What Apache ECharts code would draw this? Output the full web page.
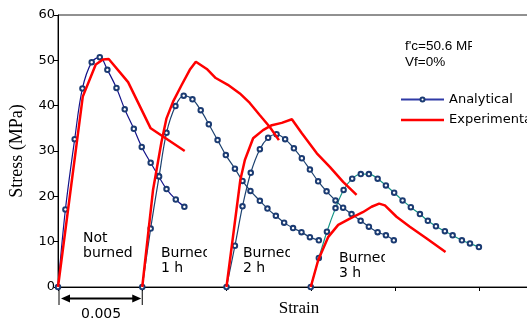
<!DOCTYPE html>
<html>
<head>
<meta charset="utf-8">
<style>
  html, body { margin: 0; padding: 0; background: #fff; }
  #chart { width: 527px; height: 322px; }
</style>
<script src="https://cdn.jsdelivr.net/npm/echarts/dist/echarts.min.js"></script>
</head>
<body>
<div id="chart"></div>
<script>
// Stress-strain curves of concrete (f'c = 50.6 MPa, Vf = 0%) after burning.
// Each burning time is shifted along the strain axis by 0.005.

// Not burned
const nbAnaStrain = [0, 0.00044, 0.00099, 0.00145, 0.00200, 0.00248, 0.00293, 0.00347, 0.00396, 0.00450, 0.00497, 0.00550, 0.00596, 0.00644, 0.00699, 0.00750];
const nbAnaStress = [0, 17.1, 32.6, 43.8, 49.6, 50.7, 47.9, 43.9, 39.2, 34.9, 30.9, 27.4, 24.5, 21.6, 19.3, 17.7];
const nbExpStrain = [0, 0.00147, 0.00224, 0.00267, 0.00301, 0.00416, 0.00550, 0.00752];
const nbExpStress = [0, 42.0, 49.1, 50.2, 50.3, 45.2, 35.0, 30.0];

// Burned 1 h
const b1AnaStrain = [0.005, 0.00550, 0.00600, 0.00644, 0.00697, 0.00746, 0.00798, 0.00847, 0.00895, 0.00947, 0.00996, 0.01050, 0.01095, 0.01142, 0.01198, 0.01243, 0.01293, 0.01342, 0.01395, 0.01445, 0.01495, 0.01548];
const b1AnaStress = [0, 12.9, 24.4, 34.0, 39.9, 42.2, 41.4, 39.0, 35.9, 32.4, 29.1, 26.1, 23.4, 21.2, 19.0, 17.3, 15.7, 14.2, 13.0, 12.1, 11.0, 10.3];
const b1ExpStrain = [0.005, 0.00564, 0.00614, 0.00644, 0.00683, 0.00733, 0.00782, 0.00818, 0.00883, 0.00936, 0.01008, 0.01079, 0.01138, 0.01198, 0.01257, 0.01311];
const b1ExpStress = [0, 21.4, 32.0, 37.2, 40.9, 44.5, 47.9, 49.7, 48.1, 46.1, 44.6, 42.7, 40.6, 37.9, 35.3, 32.4];

// Burned 2 h
const b2AnaStrain = [0.010, 0.01050, 0.01095, 0.01144, 0.01198, 0.01247, 0.01297, 0.01348, 0.01400, 0.01447, 0.01495, 0.01544, 0.01594, 0.01647, 0.01692, 0.01742, 0.01796, 0.01845, 0.01897, 0.01946, 0.01993];
const b2AnaStress = [0, 9.1, 17.8, 25.2, 30.4, 32.9, 33.7, 32.6, 30.6, 28.4, 25.9, 23.3, 21.1, 19.1, 17.5, 16.1, 14.6, 13.3, 12.1, 11.4, 10.3];
const b2ExpStrain = [0.010, 0.01082, 0.01109, 0.01158, 0.01217, 0.01269, 0.01328, 0.01388, 0.01447, 0.01536, 0.01613, 0.01692, 0.01772];
const b2ExpStress = [0, 23.6, 28.0, 32.8, 34.6, 35.7, 36.2, 37.0, 33.9, 29.5, 26.5, 23.2, 20.3];

// Burned 3 h
const b3AnaStrain = [0.015, 0.01548, 0.01596, 0.01647, 0.01695, 0.01746, 0.01797, 0.01845, 0.01897, 0.01946, 0.01995, 0.02045, 0.02094, 0.02148, 0.02195, 0.02243, 0.02296, 0.02342, 0.02397, 0.02445, 0.02498];
const b3AnaStress = [0, 6.4, 12.2, 17.4, 21.4, 23.9, 24.9, 24.9, 23.9, 22.4, 20.8, 19.1, 17.6, 16.1, 14.6, 13.4, 12.3, 11.4, 10.3, 9.6, 8.8];
const b3ExpStrain = [0.015, 0.01544, 0.01603, 0.01663, 0.01732, 0.01809, 0.01861, 0.01906, 0.01940, 0.02009, 0.02088, 0.02188, 0.02300];
const b3ExpStress = [0, 5.9, 11.0, 13.7, 15.1, 16.5, 17.7, 18.4, 18.0, 15.5, 13.3, 10.7, 7.7];

const yTicks = [0, 10, 20, 30, 40, 50, 60];
const strainStep = 0.005;
const curveLabels = [
  { lines: ['Not', 'burned'], x: 83, y: 238 },
  { lines: ['Burned', '1 h'], x: 161, y: 253, clipAt: 207 },
  { lines: ['Burned', '2 h'], x: 243, y: 253, clipAt: 290 },
  { lines: ['Burned', '3 h'], x: 339, y: 258, clipAt: 385 }
];

const SANS = 'DejaVu Sans';
const ARIAL = 'Liberation Sans';
const SERIF = 'Liberation Serif';

function zip(xs, ys) { return xs.map((x, i) => [x, ys[i]]); }

const markerColor = '#1b3b72';
function analytical(xs, ys, lineColor) {
  return {
    name: 'Analytical', type: 'line', data: zip(xs, ys),
    smooth: 0.35, symbol: 'emptyCircle', symbolSize: 4.5,
    lineStyle: { color: lineColor, width: 1.2 },
    itemStyle: { color: markerColor, borderWidth: 1.2 },
    z: 2
  };
}
function experimental(xs, ys) {
  return {
    name: 'Experimental', type: 'line', data: zip(xs, ys),
    symbol: 'none', smooth: false,
    lineStyle: { color: '#ff0000', width: 2.5 },
    itemStyle: { color: '#ff0000' },
    z: 3
  };
}

const chart = echarts.init(document.getElementById('chart'), null, { renderer: 'canvas' });

chart.setOption({
  animation: false,
  backgroundColor: '#fff',
  grid: { left: 58, top: 15, width: 505.5, height: 272, show: true, borderColor: '#222', borderWidth: 1,
          containLabel: false, outerBoundsMode: 'none' },
  legend: {
    orient: 'vertical', left: 400, top: 93, padding: 0,
    itemWidth: 43, itemHeight: 5, itemGap: 7.5,
    textStyle: { fontFamily: SANS, fontSize: 13, color: '#000' },
    data: [
      { name: 'Analytical', lineStyle: { color: '#2f3aa6' } },
      { name: 'Experimental', icon: 'path://M0,0H43V2.6H0Z' }
    ]
  },
  xAxis: {
    type: 'value', min: 0, max: strainStep * 6, interval: strainStep,
    axisLine: { lineStyle: { color: '#000', width: 1 } },
    axisTick: { show: true, inside: false, length: 4, lineStyle: { color: '#000' } },
    axisLabel: { show: false },
    splitLine: { show: false }
  },
  yAxis: {
    type: 'value', min: yTicks[0], max: yTicks[yTicks.length - 1], interval: yTicks[1] - yTicks[0],
    name: 'Stress (MPa)', nameLocation: 'middle', nameGap: 32,
    nameTextStyle: { fontFamily: SERIF, fontSize: 18, color: '#000' },
    axisLine: { show: true, lineStyle: { color: '#000', width: 1 } },
    axisTick: { show: true, inside: false, length: 4, lineStyle: { color: '#000' } },
    axisLabel: { fontFamily: SANS, fontSize: 13, color: '#000', margin: 3 },
    splitLine: { show: false }
  },
  series: [
    analytical(nbAnaStrain, nbAnaStress, '#14148a'),
    analytical(b1AnaStrain, b1AnaStress, '#1d4270'),
    analytical(b2AnaStrain, b2AnaStress, '#1d4270'),
    analytical(b3AnaStrain, b3AnaStress, '#159486'),
    experimental(nbExpStrain, nbExpStress),
    experimental(b1ExpStrain, b1ExpStress),
    experimental(b2ExpStrain, b2ExpStress),
    experimental(b3ExpStrain, b3ExpStress)
  ]
});

// Annotations: curve captions, material note, strain-offset dimension and axis title
const p0 = chart.convertToPixel({ gridIndex: 0 }, [0, 0]);
const p1 = chart.convertToPixel({ gridIndex: 0 }, [strainStep, 0]);
const arrowY = p0[1] + 11.5;
const elems = [];

function txt(s, x, y, size, family, align) {
  return {
    type: 'text', z: 1,
    style: { text: s, x: x, y: y, font: size + 'px "' + family + '"', fill: '#000',
             textAlign: align || 'left', align: align || 'left',
             textVerticalAlign: 'middle', verticalAlign: 'middle' }
  };
}

curveLabels.forEach(c => {
  elems.push(txt(c.lines[0], c.x, c.y, 14, SANS));
  elems.push(txt(c.lines[1], c.x, c.y + 15, 14, SANS));
  if (c.clipAt) {
    elems.push({ type: 'rect', z: 1, shape: { x: c.clipAt, y: c.y - 8, width: 12, height: 15 },
                 style: { fill: '#fff' } });
  }
});

elems.push(txt("f'c=50.6 MPa", 405, 46.5, 13.5, ARIAL));
elems.push({ type: 'rect', z: 1, shape: { x: 472, y: 38, width: 55, height: 16 }, style: { fill: '#fff' } });
elems.push(txt('Vf=0%', 405, 62, 13.5, ARIAL));

// dimension line for one strain offset
elems.push({ type: 'line', shape: { x1: p0[0] + 1, y1: p0[1], x2: p0[0] + 1, y2: p0[1] + 18 }, style: { stroke: '#000', lineWidth: 1 } });
elems.push({ type: 'line', shape: { x1: p1[0], y1: p0[1], x2: p1[0], y2: p0[1] + 18 }, style: { stroke: '#000', lineWidth: 1 } });
elems.push({ type: 'line', shape: { x1: p0[0] + 8, y1: arrowY, x2: p1[0] - 8, y2: arrowY }, style: { stroke: '#000', lineWidth: 2 } });
elems.push({ type: 'polygon', shape: { points: [[p0[0] + 3, arrowY], [p0[0] + 12, arrowY - 4], [p0[0] + 12, arrowY + 4]] }, style: { fill: '#000' } });
elems.push({ type: 'polygon', shape: { points: [[p1[0] - 1, arrowY], [p1[0] - 10, arrowY - 4], [p1[0] - 10, arrowY + 4]] }, style: { fill: '#000' } });
elems.push(txt(String(strainStep), (p0[0] + p1[0]) / 2 + 1, 314, 14, SANS, 'center'));

elems.push(txt('Strain', 299, 309, 17, SERIF, 'center'));

chart.setOption({ graphic: { elements: elems } });
</script>
</body>
</html>
